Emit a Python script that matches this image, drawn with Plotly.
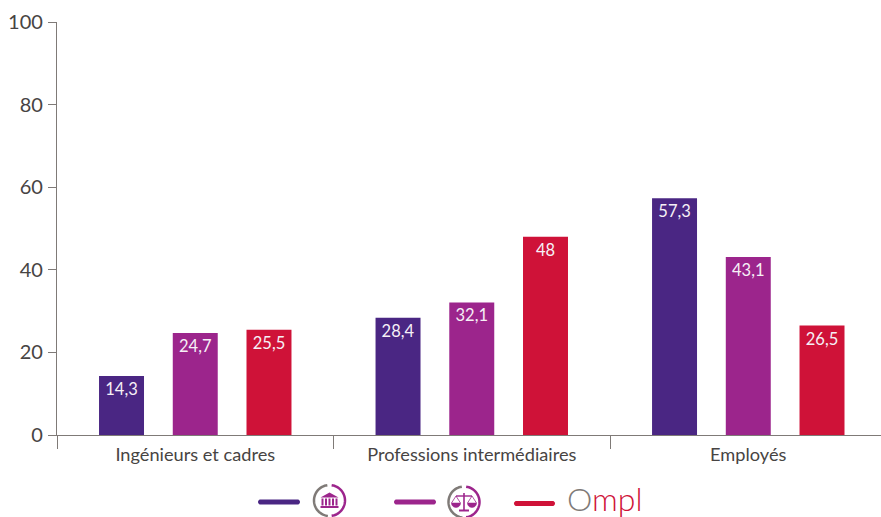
import math
import plotly.graph_objects as go

W, H = 881, 517
categories = ["Ingénieurs et cadres", "Professions intermédiaires", "Employés"]
series_a = [14.3, 28.4, 57.3]
series_b = [24.7, 32.1, 43.1]
series_c = [25.5, 48, 26.5]
colors = ["#4a2683", "#9c258c", "#cf1238"]
names = ["Institutions", "Justice", "Ompl"]
y_ticks = [0, 20, 40, 60, 80, 100]
FONT = "Lato, 'Open Sans', sans-serif"
GREY = "#7f7a77"
TEXT = "#474443"

ML, MT, MB = 57, 22, 82
PW, PH = W - ML, H - MT - MB
px = lambda x: (x - ML) / PW
py = lambda y: (H - MB - y) / PH


def poly(points, close=False):
    s = "M " + " L ".join(f"{px(x):.5f} {py(y):.5f}" for x, y in points)
    return s + (" Z" if close else "")


def arc(cx, cy, r, a0, a1, n=32):
    # angles clockwise from the top, degrees
    pts = []
    for i in range(n + 1):
        a = math.radians(a0 + (a1 - a0) * i / n)
        pts.append((cx + r * math.sin(a), cy - r * math.cos(a)))
    return pts


fig = go.Figure()
for name, vals, col in zip(names, [series_a, series_b, series_c], colors):
    fig.add_trace(go.Bar(
        name=name, x=categories, y=vals, marker=dict(color=col, line=dict(width=0)),
        text=[str(v).replace(".", ",") for v in vals],
        textposition="inside", insidetextanchor="end", textangle=0,
        textfont=dict(family=FONT, size=16.5, color="#f6f0f6"),
        constraintext="none", cliponaxis=False,
    ))

shapes = []


def line_shape(pts, color, width, close=False, fill=None):
    d = dict(type="path", xref="paper", yref="paper", path=poly(pts, close),
             line=dict(color=color, width=width))
    if fill:
        d["fillcolor"] = fill
    shapes.append(d)


# legend keys, with rounded ends
for x0, x1, y, col in [(258, 300, 502, colors[0]), (394, 436, 502, colors[1]), (514, 555, 503.5, colors[2])]:
    r = 2.6
    outline = arc(x1 - r, y, r, 0, 180, 8) + arc(x0 + r, y, r, 180, 360, 8)
    line_shape(outline, col, 0, True, col)

# first emblem: building
cx, cy = 329.5, 500.5
line_shape(arc(cx, cy, 15.5, 186, 352), GREY, 2.5)
line_shape(arc(cx, cy, 15.5, 8, 172), colors[1], 2.5)
line_shape([(cx - 9, cy - 3), (cx, cy - 8), (cx + 9, cy - 3)], colors[1], 0, True, colors[1])
for dx in (-7, -3.5, 0, 3.5, 7):
    line_shape([(cx + dx, cy - 2), (cx + dx, cy + 5)], colors[1], 2)
line_shape([(cx - 9, cy + 6.5), (cx + 9, cy + 6.5)], colors[1], 2)

# second emblem: scales
cx, cy = 464, 502
line_shape(arc(cx, cy, 15.5, 186, 352), GREY, 2.5)
line_shape(arc(cx, cy, 15.5, 8, 172), colors[1], 2.5)
line_shape([(cx, cy - 9), (cx, cy + 8)], colors[1], 1.6)
line_shape([(cx - 5, cy + 8.5), (cx + 5, cy + 8.5)], colors[1], 2)
line_shape([(cx - 8, cy - 6), (cx + 8, cy - 6)], colors[1], 1.4)
for sx in (-1, 1):
    line_shape([(cx + sx * 12.5, cy + 1), (cx + sx * 8, cy - 6), (cx + sx * 3.5, cy + 1)], colors[1], 0.8)
    line_shape(arc(cx + sx * 8, cy + 1, 4.5, 90, 270, 12), colors[1], 0.5, True, colors[1])

fig.update_layout(
    width=W, height=H, autosize=False,
    margin=dict(l=ML, r=0, t=MT, b=MB, pad=0),
    paper_bgcolor="white", plot_bgcolor="white",
    barmode="group", bargap=0.2, bargroupgap=0.39,
    showlegend=False, font=dict(family=FONT, color=TEXT),
    xaxis=dict(
        type="category", range=[-0.5, 2.48], tickson="boundaries", ticks="outside",
        ticklen=13, tickwidth=1.3, tickcolor=GREY, showline=True, linecolor=GREY, linewidth=1.3,
        showgrid=False, zeroline=False, ticklabelstandoff=3,
        tickfont=dict(family=FONT, size=18.2, color=TEXT),
    ),
    yaxis=dict(
        range=[0, 100], tickvals=y_ticks, ticks="outside", ticklen=8, tickwidth=1.3, tickcolor=GREY,
        showline=True, linecolor=GREY, linewidth=1.3, showgrid=False, zeroline=False,
        ticklabelstandoff=1,
        tickfont=dict(family=FONT, size=20, color=TEXT),
    ),
    shapes=shapes,
    annotations=[dict(
        xref="paper", yref="paper", x=px(565), y=py(498), xanchor="left", yanchor="middle", showarrow=False,
        text=f'<span style="color:{GREY}">O</span>mpl',
        font=dict(family=FONT, size=32, color=colors[2], weight=300),
    )],
)
fig.write_html("out.html", config=dict(displayModeBar=False), post_script="document.body.style.margin='0';")
